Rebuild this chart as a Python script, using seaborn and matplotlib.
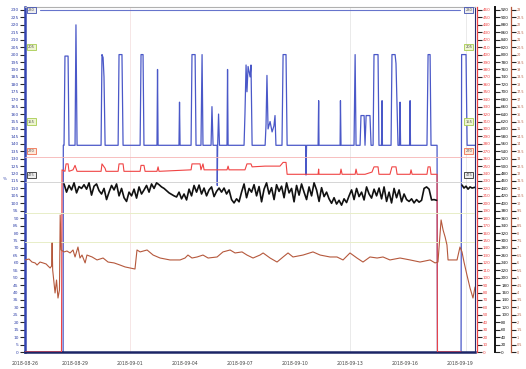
import numpy as np
import pandas as pd
import matplotlib
matplotlib.use("Agg")
import matplotlib.pyplot as plt
import matplotlib.transforms as mtrans
import seaborn as sns

# DATA
# time axis: days counted from 2018-08-29 00:00
date_ticks = [-2.73, 0, 3, 6, 9, 12, 15, 18, 21]
date_labels = ['2018-08-26', '2018-08-29', '2018-09-01', '2018-09-04', '2018-09-07',
               '2018-09-10', '2018-09-13', '2018-09-16', '2018-09-19']

# blue trace (left axis)
blue_days = [-2.73, -0.65, -0.64, -0.60, -0.55, -0.38, -0.33, 0.00, 0.05, 0.11,
             1.42, 1.47, 1.53, 1.58, 1.64,
             2.35, 2.40, 2.56, 2.62,
             3.55, 3.60, 3.71, 3.76,
             4.47, 4.50, 4.53,
             5.67, 5.70, 5.73,
             6.33, 6.38, 6.55, 6.60,
             6.87, 6.93, 6.98,
             7.42, 7.47, 7.53,
             7.75, 7.76, 7.78, 7.83, 7.88,
             8.29, 8.32, 8.35,
             9.22, 9.27, 9.33, 9.38, 9.44, 9.55, 9.60, 9.66,
             10.37, 10.42, 10.47, 10.53, 10.64, 10.75, 10.85, 10.91, 10.96,
             11.29, 11.35, 11.51, 11.57,
             12.58, 12.60, 12.63,
             13.26, 13.29, 13.31,
             14.46, 14.48, 14.51,
             15.22, 15.28, 15.33,
             15.55, 15.60, 15.77, 15.82, 15.88, 16.09, 16.15,
             16.26, 16.31, 16.53, 16.58,
             16.72, 16.75, 16.77,
             17.24, 17.29, 17.46, 17.51, 17.62,
             17.70, 17.73, 17.76,
             18.25, 18.28, 18.30,
             19.20, 19.26, 19.37, 19.42,
             19.75, 19.77,
             21.06, 21.09, 21.33, 21.39, 21.82]
blue_vals = [0, 0, 139, 139, 199, 199, 139, 139, 220, 139,
             139, 200, 198, 185, 139,
             139, 200, 200, 139,
             139, 200, 200, 139,
             139, 190, 139,
             139, 168, 139,
             139, 200, 200, 139,
             139, 200, 139,
             139, 165, 139,
             139, 112, 139, 160, 139,
             139, 190, 139,
             139, 160, 193, 175, 192, 185, 193, 139,
             139, 153, 186, 150, 155, 148, 152, 159, 139,
             139, 200, 200, 139,
             139, 119, 139,
             139, 169, 139,
             139, 169, 139,
             139, 200, 139,
             139, 159, 159, 139, 159, 159, 139,
             139, 200, 200, 139,
             139, 169, 139,
             139, 200, 200, 194, 139,
             139, 168, 139,
             139, 169, 139,
             139, 200, 200, 139,
             139, 0,
             0, 200, 200, 139, 139]

# red trace (first right axis)
red_days = [-2.73, -0.74, -0.71, -0.55, -0.49, -0.38, -0.33, -0.11, 0.00, 0.11,
            1.42, 1.47, 1.64, 1.69,
            2.35, 2.40, 2.62, 2.67,
            3.55, 3.60, 3.76, 3.82,
            4.47, 4.53, 4.58,
            6.33, 6.38, 6.82, 6.87, 6.98, 7.04,
            8.29, 8.35, 8.40,
            9.27, 9.38, 9.60, 9.66,
            10.37, 11.18, 11.35, 11.51, 11.57,
            13.26, 13.29, 13.31,
            14.46, 14.51, 14.57,
            15.28, 15.33, 15.39,
            15.82, 16.20, 16.31, 16.53, 16.58,
            17.18, 17.29, 17.51, 17.57,
            18.28, 18.33, 18.39,
            19.20, 19.26, 19.37, 19.42,
            19.75, 19.77, 21.06]
red_vals = [0, 0, 245, 243, 253, 253, 243, 245, 251, 243,
            243, 253, 247, 243,
            243, 253, 253, 243,
            243, 251, 251, 243,
            243, 249, 243,
            245, 253, 253, 245, 253, 245,
            245, 250, 245,
            245, 253, 253, 249,
            250, 250, 255, 255, 239,
            239, 246, 239,
            239, 246, 239,
            239, 246, 239,
            239, 242, 249, 249, 239,
            239, 249, 249, 239,
            239, 245, 239,
            239, 249, 249, 239,
            239, 0, 0]

# black trace (second right axis), one sample every ~3.3 h from day -0.60
black_start = -0.60
black_step = 0.1364
black_vals = [452, 430, 448, 436, 455, 428, 445, 440,
              450, 438, 455, 422, 446, 452, 434,
              425, 440, 410, 430, 448, 436, 452, 420, 440, 415, 405, 430,
              420, 438, 414, 444, 425, 436, 448, 430, 452, 440, 455,
              450, 444, 440, 434, 428, 424, 420, 417,
              430, 412, 425, 409, 438, 420, 448, 430,
              449, 425, 441, 420, 436, 444, 418, 432, 441,
              430, 441, 425, 436, 410, 401, 412, 404,
              430, 452, 415, 440,
              430, 450, 420, 445, 404, 438, 455, 425, 442, 410,
              450, 432, 446, 415, 455, 428, 440, 404, 448, 422,
              452, 430, 410, 444, 420, 455, 436, 405, 442, 418,
              430, 412,
              400, 415, 398, 408, 395, 412, 402, 420,
              436, 410, 440, 418, 430, 409, 444, 425, 414, 438, 420, 441, 412,
              444, 405, 430, 401, 440, 415, 436, 404, 425, 410,
              405, 412, 401, 410, 403, 408,
              440, 444, 438,
              409, 410, 408]
black_tail_days = [21.11, 21.22, 21.33, 21.44, 21.55, 21.66, 21.82]
black_tail_vals = [449, 441, 446, 438, 444, 441, 443]

# brown trace (third right axis)
brown_days = [-2.73, -2.51, -2.35, -2.18, -2.07, -1.91, -1.75, -1.58, -1.47, -1.36,
              -1.28, -1.25, -1.22, -1.09, -1.01, -0.93, -0.85, -0.81, -0.76,
              -0.60, -0.44, -0.27, -0.11, 0.00, 0.16, 0.27, 0.38, 0.55, 0.65,
              0.93, 1.20, 1.53, 1.80, 2.13, 2.45, 2.73, 3.00, 3.27, 3.38,
              3.55, 3.93, 4.26, 4.64, 5.18, 5.73, 6.00, 6.16, 6.38, 6.66,
              6.98, 7.26, 7.75, 8.07, 8.46, 8.73, 9.11, 9.38, 9.71, 10.09,
              10.26, 10.64, 11.02, 11.35, 11.62, 11.89, 12.44, 12.98, 13.37, 13.91,
              14.29, 14.62, 15.00, 15.38, 15.71, 16.09, 16.48, 16.80, 17.18, 17.73,
              18.28, 18.82, 19.37, 19.64, 19.80, 19.97, 20.08, 20.19, 20.29, 20.35,
              20.57, 20.84, 21.00, 21.11, 21.22, 21.38, 21.55, 21.71, 21.82]
brown_vals = [6.19, 6.25, 6.05, 5.99, 5.85, 6.05, 5.99, 5.92, 5.78, 5.65,
              5.78, 7.33, 5.51, 3.97, 4.84, 3.63, 4.17, 9.21, 6.86,
              6.73, 6.79, 6.66, 6.86, 6.39, 7.06, 6.32, 6.52, 5.99, 6.52,
              6.39, 6.19, 6.32, 6.05, 5.99, 5.85, 5.72, 5.65, 5.58, 6.86,
              6.73, 6.86, 6.52, 6.32, 6.19, 6.19, 6.32, 6.52, 6.32, 6.39,
              6.52, 6.32, 6.39, 6.73, 6.86, 6.66, 6.73, 6.52, 6.32, 6.52,
              6.66, 6.32, 6.05, 6.39, 6.66, 6.39, 6.52, 6.73, 6.52, 6.39,
              6.39, 6.19, 6.66, 6.32, 6.05, 6.39, 6.32, 6.39, 6.19, 6.32,
              6.19, 6.05, 6.19, 5.99, 6.05, 8.88, 8.20, 7.73, 7.20, 6.19,
              6.19, 6.19, 7.06, 6.73, 6.05, 5.18, 4.30, 3.63, 4.37]

# axis scales and limit markers
blue_ticks = list(range(0, 235, 5))
red_ticks = list(range(0, 470, 10))
black_ticks = list(range(0, 940, 20))
brown_ticks = [x / 2 for x in range(0, 47)]
blue_limits = ['230', '205', '155']
blue_limit_vals = [230, 205, 155]
red_limit = 270
black_limit = 475
brown_bands = [9.35, 7.40]

# colours
c_blue = '#4a58c8'
c_red = '#f04444'
c_black = '#111111'
c_brown = '#b5583c'

sns.set_style('white')
fig = plt.figure(figsize=(5.26, 3.69), dpi=100)
ax = fig.add_axes([25 / 526, 17 / 369, 450 / 526, 345 / 369])
ax_red = ax.twinx()
ax_blk = ax.twinx()
ax_brn = ax.twinx()

# faint cursor lines and limit bands
ax.axvline(3.0, color='#f5e2e2', lw=0.6, zorder=0)
ax.axvline(15.0, color='#e6e6e6', lw=0.6, zorder=0)
ax.axvline(21.35, color='#e6e6e6', lw=0.6, zorder=0)
for b in brown_bands:
    ax_brn.axhline(b, color='#e8eec8', lw=0.7, zorder=0)
ax_red.axhline(262, color='#f6b4b4', lw=0.6, zorder=0)
ax_blk.axhline(457, color='#cfcfcf', lw=0.6, zorder=0)
ax.axhline(230, xmin=0.033, xmax=0.967, color='#6674cc', lw=0.8)

# traces
sns.lineplot(x=blue_days, y=blue_vals, ax=ax, color=c_blue, linewidth=0.9,
             estimator=None, sort=False)
sns.lineplot(x=red_days, y=red_vals, ax=ax_red, color=c_red, linewidth=0.8,
             estimator=None, sort=False)
black_days = [round(black_start + black_step * i, 3) for i in range(len(black_vals))]
sns.lineplot(x=black_days, y=black_vals, ax=ax_blk, color=c_black, linewidth=1.2,
             estimator=None, sort=False)
sns.lineplot(x=black_tail_days, y=black_tail_vals, ax=ax_blk, color=c_black,
             linewidth=1.2, estimator=None, sort=False)
sns.lineplot(x=brown_days, y=brown_vals, ax=ax_brn, color=c_brown, linewidth=0.8,
             estimator=None, sort=False)

# axes setup
ax.set_xlim(-2.73, 21.82)
ax.set_ylim(0, 232)
ax.set_yticks(blue_ticks)
ax.set_yticklabels([str(v) for v in blue_ticks])
ax.set_xticks(date_ticks)
ax.set_xticklabels(date_labels)
ax.tick_params(axis='y', labelsize=3.2, labelcolor='#3344aa', pad=1)
ax.tick_params(axis='x', labelsize=3.3, labelcolor='#444444', pad=3)
ax.spines['left'].set_color('#3344b0')
ax.spines['left'].set_linewidth(1.8)
ax.spines['bottom'].set_color('#1c2566')
ax.spines['bottom'].set_linewidth(1.8)
ax.spines['top'].set_color('#b0b0b0')
ax.spines['top'].set_linewidth(0.8)
ax.spines['right'].set_color('#2a2a6a')
ax.spines['right'].set_linewidth(0.8)

right_axes = [(ax_red, 1.5, c_red, (0, 464), red_ticks, '{:d}', 0.9, 3.0),
              (ax_blk, 14.5, c_black, (0, 928), black_ticks, '{:d}', 1.4, 3.0),
              (ax_brn, 26.0, c_brown, (0, 23.2), brown_ticks, '{:g}', 0.9, 2.4)]
for a, off, col, lim, ticks, fmt, lw, fs in right_axes:
    a.set_ylim(*lim)
    a.set_yticks(ticks)
    a.set_yticklabels([fmt.format(t) for t in ticks])
    a.spines['right'].set_position(('outward', off))
    a.spines['right'].set_color(col)
    a.spines['right'].set_linewidth(lw)
    for s in ['left', 'top', 'bottom']:
        a.spines[s].set_visible(False)
    a.tick_params(axis='y', labelsize=fs, labelcolor=col, pad=0.8)
    a.set_xlim(-2.73, 21.82)

# limit marker boxes
def limit_box(axis, yval, text, edge, face, side):
    tr = mtrans.blended_transform_factory(ax.transAxes, axis.transData)
    x = 0.006 if side == 'left' else 0.994
    axis.text(x, yval, text, transform=tr, fontsize=2.6, color='#555555',
              ha=side, va='center', zorder=5,
              bbox=dict(boxstyle='square,pad=0.3', fc=face, ec=edge, lw=0.6))

for side in ['left', 'right']:
    limit_box(ax, blue_limit_vals[0], blue_limits[0], '#4050b0', '#eeeeee', side)
    limit_box(ax, blue_limit_vals[1], blue_limits[1], '#a8cc50', '#eef6d0', side)
    limit_box(ax, blue_limit_vals[2], blue_limits[2], '#a8cc50', '#eef6d0', side)
    limit_box(ax_red, red_limit, str(red_limit), '#f07050', '#fde8d8', side)
    limit_box(ax_blk, black_limit, str(black_limit), '#333333', '#eeeeee', side)

fig.text(0.006, 1 - 180 / 369, '%', fontsize=3, color='#3344aa')

plt.savefig('out.png', dpi=100)
